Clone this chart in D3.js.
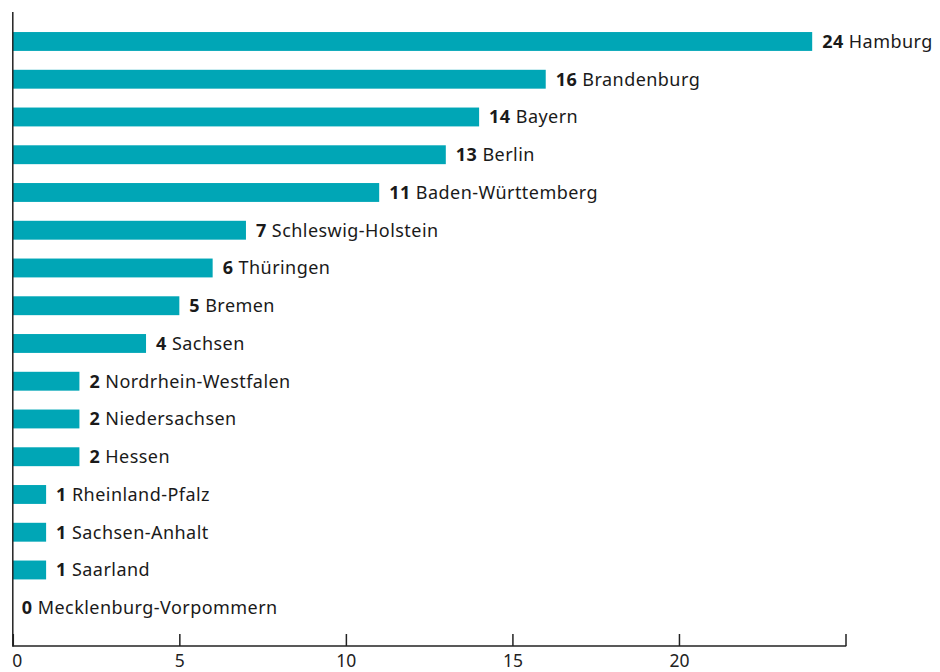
<!DOCTYPE html>
<html><head><meta charset="utf-8">
<script src="https://cdn.jsdelivr.net/npm/d3@7"></script>
<style>body{margin:0;background:#fff}svg{display:block}text{font-family:"Noto Sans",sans-serif}</style>
</head><body><svg id="c" width="940" height="672"></svg>
<script>
const categories = ["Hamburg","Brandenburg","Bayern","Berlin","Baden-Württemberg","Schleswig-Holstein","Thüringen","Bremen","Sachsen","Nordrhein-Westfalen","Niedersachsen","Hessen","Rheinland-Pfalz","Sachsen-Anhalt","Saarland","Mecklenburg-Vorpommern"];
const values = [24,16,14,13,11,7,6,5,4,2,2,2,1,1,1,0];
const xTicks = [0,5,10,15,20,25];

const svg = d3.select("#c");
const x = d3.scaleLinear().domain([0,25]).range([12.8,845.5]);
const y = d3.scaleBand().domain(categories).range([22.6,626.6]).paddingInner(0.5).paddingOuter(0.25);

svg.append("g").selectAll("rect").data(categories).join("rect")
  .attr("x", x(0)).attr("y", d=>y(d))
  .attr("width", (d,i)=>x(values[i])-x(0)).attr("height", y.bandwidth())
  .attr("fill","#00a6b6");

const lab = svg.append("g").selectAll("text").data(categories).join("text")
  .attr("x",(d,i)=>x(values[i])+ (values[i]===0?9:10))
  .attr("y",d=>y(d)+y.bandwidth()/2).attr("dy","0.36em")
  .attr("font-size",18).attr("letter-spacing",0.45).attr("fill","#1a1a1a");
lab.append("tspan").attr("font-weight","bold").text((d,i)=>values[i]);
lab.append("tspan").text(d=>" "+d);

const ax = svg.append("g").attr("transform","translate(0,646)")
  .call(d3.axisBottom(x).tickValues(xTicks).tickSize(-12).tickPadding(8).tickFormat(d=>d===25?"":d));
ax.select(".domain").remove();
ax.selectAll(".tick line").attr("stroke","#222").attr("stroke-width",1.5);
ax.selectAll(".tick text").attr("font-size",17.5).attr("fill","#222").attr("font-family","Noto Sans")
  .attr("y",21).attr("dy",0);
ax.selectAll(".tick text").filter(d=>d===0).attr("text-anchor","start").attr("dx",-1);
svg.append("line").attr("x1",x(0)).attr("x2",x(25)+0.75).attr("y1",646).attr("y2",646).attr("stroke","#222").attr("stroke-width",1.5);
svg.append("line").attr("x1",x(0)).attr("x2",x(0)).attr("y1",12).attr("y2",646.75).attr("stroke","#222").attr("stroke-width",1.5);
</script></body></html>
